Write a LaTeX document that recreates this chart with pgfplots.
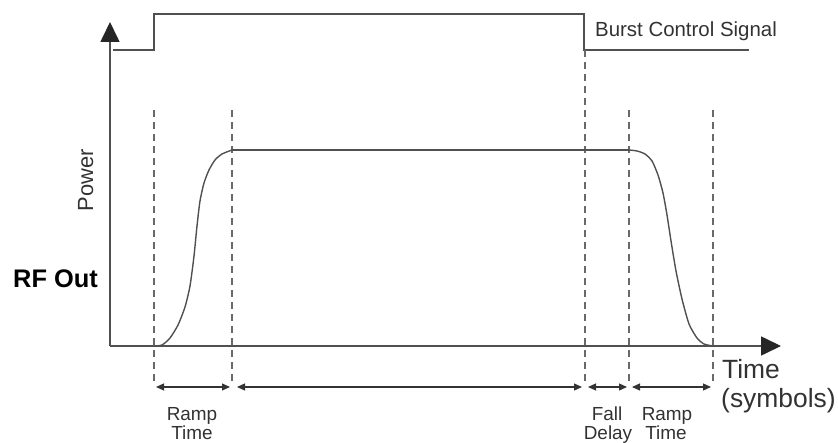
\documentclass[border=0pt]{standalone}
\usepackage{pgfplots}
\pgfplotsset{compat=1.18}
\usepackage{fontspec}
\setmainfont{Liberation Sans}
\usetikzlibrary{arrows.meta}
\definecolor{lc}{RGB}{80,80,80}
\definecolor{dc}{RGB}{105,105,105}
\definecolor{tc}{RGB}{50,50,50}
\begin{document}
\begin{tikzpicture}
\begin{axis}[scale only axis, width=838bp, height=441bp,
  xmin=0, xmax=838, ymin=0, ymax=441, hide axis, clip=false]
\addplot[draw=none] coordinates {(0,0) (838,441)};
% axes
\addplot[lc, line width=1.6bp, -{Triangle[length=20bp,width=19bp,fill=black!85,color=black!85]}] coordinates {(110,95) (110,419)};
\addplot[lc, line width=1.6bp, -{Triangle[length=20bp,width=19bp,fill=black!85,color=black!85]}] coordinates {(110,95) (781,95)};
% burst control signal
\addplot[lc, line width=1.6bp] coordinates {(113,391) (154,391) (154,427) (584,427) (584,391) (749,391)};
% dashed markers
\addplot[dc, line width=1.2bp, dash pattern=on 7bp off 5bp] coordinates {(154,331) (154,58)};
\addplot[dc, line width=1.2bp, dash pattern=on 7bp off 5bp] coordinates {(232,331) (232,58)};
\addplot[dc, line width=1.2bp, dash pattern=on 7bp off 5bp] coordinates {(585,391) (585,58)};
\addplot[dc, line width=1.2bp, dash pattern=on 7bp off 5bp] coordinates {(629,331) (629,58)};
\addplot[dc, line width=1.2bp, dash pattern=on 7bp off 5bp] coordinates {(713,331) (713,58)};
% RF power envelope
\addplot[lc, line width=1.4bp, smooth, tension=0.4] coordinates {
 (154,95) (162,96) (170,103) (178,116) (185,134) (190,155) (194,185) (197,215) (200,240) (204,258) (209,271) (215,281) (222,287) (232,291)};
\addplot[lc, line width=1.4bp] coordinates {(232,291) (629,291)};
\addplot[lc, line width=1.4bp, smooth, tension=0.4] coordinates {
 (629,291) (637,290) (645,287) (652,280) (658,266) (663,248) (667,226) (671,200) (676,170) (682,142) (689,117) (697,103) (704,97) (713,95)};
% dimension arrows
\addplot[black!80, line width=1.2bp, {Triangle[length=8bp,width=7bp]}-{Triangle[length=8bp,width=7bp]}] coordinates {(156,54) (230,54)};
\addplot[black!80, line width=1.2bp, {Triangle[length=8bp,width=7bp]}-{Triangle[length=8bp,width=7bp]}] coordinates {(237,54) (582,54)};
\addplot[black!80, line width=1.2bp, {Triangle[length=8bp,width=7bp]}-{Triangle[length=8bp,width=7bp]}] coordinates {(588,54) (627,54)};
\addplot[black!80, line width=1.2bp, {Triangle[length=8bp,width=7bp]}-{Triangle[length=8bp,width=7bp]}] coordinates {(632,54) (711,54)};
% labels
\node[anchor=base west, inner sep=0, text=tc, font=\fontsize{20.5}{20.5}\selectfont] at (axis cs:595,404) {Burst Control Signal};
\node[anchor=base west, inner sep=0, text=black, font=\fontsize{25.5}{25.5}\selectfont\bfseries] at (axis cs:13,153) {RF Out};
\node[anchor=base, rotate=90, inner sep=0, text=tc, font=\fontsize{22}{22}\selectfont] at (axis cs:93,261) {Power};
\node[anchor=base west, inner sep=0, text=tc, font=\fontsize{26.5}{26.5}\selectfont] at (axis cs:722,63) {Time};
\node[anchor=base west, inner sep=0, text=tc, font=\fontsize{26.5}{26.5}\selectfont] at (axis cs:721,34) {(symbols)};
\node[anchor=base, inner sep=0, text=tc, font=\fontsize{19}{19}\selectfont] at (axis cs:192,21) {Ramp};
\node[anchor=base, inner sep=0, text=tc, font=\fontsize{19}{19}\selectfont] at (axis cs:192,2) {Time};
\node[anchor=base, inner sep=0, text=tc, font=\fontsize{19}{19}\selectfont] at (axis cs:607,21) {Fall};
\node[anchor=base, inner sep=0, text=tc, font=\fontsize{19}{19}\selectfont] at (axis cs:608,2) {Delay};
\node[anchor=base, inner sep=0, text=tc, font=\fontsize{19}{19}\selectfont] at (axis cs:667,21) {Ramp};
\node[anchor=base, inner sep=0, text=tc, font=\fontsize{19}{19}\selectfont] at (axis cs:666,2) {Time};
\end{axis}
\end{tikzpicture}
\end{document}
